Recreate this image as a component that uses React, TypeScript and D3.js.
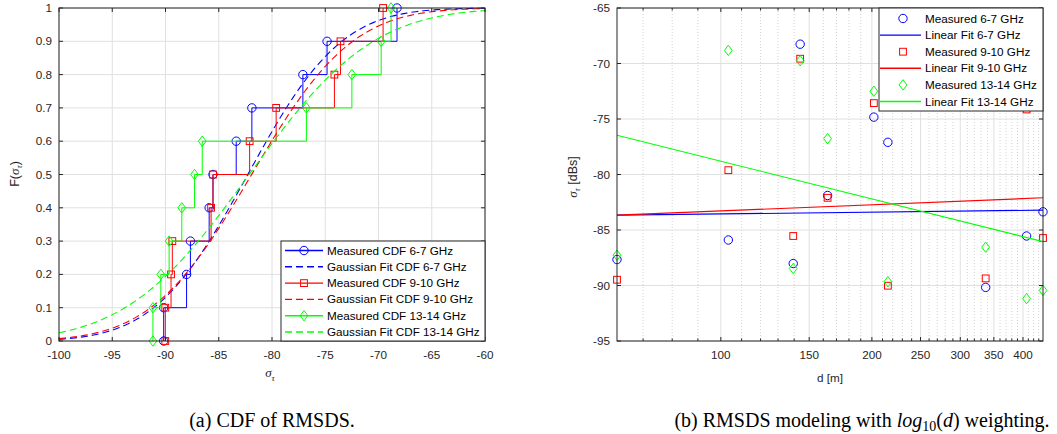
import React from 'react';
import * as d3 from 'd3';

// ---------- data ----------
const distances = [62.1, 103.5, 139.4, 143.9, 163.2, 201.8, 215.2, 337.1, 406.7, 438.5];
const measured67 = [-87.66, -85.9, -88.02, -68.26, -81.89, -74.83, -77.1, -90.17, -85.54, -83.36];
const measured910 = [-89.48, -79.61, -85.54, -69.57, -82.1, -73.57, -90.02, -89.36, -74.14, -85.72];
const measured1314 = [-87.27, -68.82, -88.47, -69.75, -76.77, -72.5, -89.66, -86.55, -91.18, -90.44];
// linear fit values at the two ends of the distance axis
const fit67 = [-83.66, -83.21];
const fit910 = [-83.66, -82.1];
const fit1314 = [-76.47, -86.05];

const bandNames = ['6-7 GHz', '9-10 GHz', '13-14 GHz'];
const cdfXTicks = [-100, -95, -90, -85, -80, -75, -70, -65, -60];
const cdfYTicks = [0, 0.1, 0.2, 0.3, 0.4, 0.5, 0.6, 0.7, 0.8, 0.9, 1];
const distTicks = [100, 150, 200, 250, 300, 350, 400];
const distMinorTicks = [70, 80, 90, 110, 120, 130, 140, 160, 170, 180, 190, 210, 220, 230, 240, 260, 270, 280, 290, 310, 320, 330, 340, 360, 370, 380, 390, 410, 420, 430];
const rmsTicks = [-65, -70, -75, -80, -85, -90, -95];

const COLORS = ['#0000ff', '#ff0000', '#00ff00'];
const MARKERS = ['circle', 'square', 'diamond'];
const AXIS = '#262626';
const GRID = '#e0e0e0';
const FONT = '"Liberation Sans", Arial, Helvetica, sans-serif';
const SERIF = '"Liberation Serif", "Times New Roman", serif';
const FS = 11.7;

function erf(x: number) {
  const s = x < 0 ? -1 : 1;
  const a = Math.abs(x);
  const t = 1 / (1 + 0.3275911 * a);
  const y = 1 - (((((1.061405429 * t - 1.453152027) * t) + 1.421413741) * t - 0.284496736) * t + 0.254829592) * t * Math.exp(-a * a);
  return s * y;
}
const normCdf = (x: number, mu: number, sd: number) => 0.5 * (1 + erf((x - mu) / (sd * Math.SQRT2)));

function Marker({ type, x, y, color }: { type: string; x: number; y: number; color: string }) {
  if (type === 'circle') return <circle cx={x} cy={y} r={4.2} fill="none" stroke={color} strokeWidth={1} />;
  if (type === 'square') return <rect x={x - 3.4} y={y - 3.4} width={6.8} height={6.8} fill="none" stroke={color} strokeWidth={1} />;
  return <path d={`M${x},${y - 5.2}L${x + 3.9},${y}L${x},${y + 5.2}L${x - 3.9},${y}Z`} fill="none" stroke={color} strokeWidth={1} />;
}

// ---------- left panel: CDF ----------
function CdfPanel() {
  const L = 59, R = 485, T = 8, B = 341;
  const x = d3.scaleLinear().domain([-100, -60]).range([L, R]);
  const y = d3.scaleLinear().domain([0, 1]).range([B, T]);
  const bands = [measured67, measured910, measured1314];
  const line = d3.line<[number, number]>().x(d => x(d[0])).y(d => y(d[1]));
  const stair = d3.line<[number, number]>().x(d => x(d[0])).y(d => y(d[1])).curve(d3.curveStepAfter);
  const xs = d3.range(-100, -59.99, 0.25);

  const series = bands.map(vals => {
    const s = [...vals].sort((a, b) => a - b);
    const n = s.length;
    const pts: [number, number][] = [[s[0], 0], ...s.map((v, i) => [v, (i + 1) / n] as [number, number])];
    const mu = d3.mean(vals) as number;
    const sd = d3.deviation(vals) as number;
    const fit: [number, number][] = xs.map(v => [v, normCdf(v, mu, sd)]);
    return { pts, fit };
  });

  const legendItems = [0, 1, 2].flatMap(i => [
    { label: `Measured CDF ${bandNames[i]}`, color: COLORS[i], marker: MARKERS[i], dash: 'none' },
    { label: `Gaussian Fit CDF ${bandNames[i]}`, color: COLORS[i], marker: '', dash: '7,4' },
  ]);

  return (
    <g>
      {cdfXTicks.map(t => <line key={'gx' + t} x1={x(t)} x2={x(t)} y1={T} y2={B} stroke={GRID} strokeWidth={1} />)}
      {cdfYTicks.map(t => <line key={'gy' + t} x1={L} x2={R} y1={y(t)} y2={y(t)} stroke={GRID} strokeWidth={1} />)}
      {series.map((s, i) => (
        <g key={'s' + i}>
          <path d={stair(s.pts) || ''} fill="none" stroke={COLORS[i]} strokeWidth={1} />
          {s.pts.map((p, j) => <Marker key={j} type={MARKERS[i]} x={x(p[0])} y={y(p[1])} color={COLORS[i]} />)}
          <path d={line(s.fit) || ''} fill="none" stroke={COLORS[i]} strokeWidth={1.1} strokeDasharray="7,4" />
        </g>
      ))}
      <rect x={L} y={T} width={R - L} height={B - T} fill="none" stroke={AXIS} strokeWidth={1} />
      {cdfXTicks.map(t => (
        <g key={'tx' + t}>
          <line x1={x(t)} x2={x(t)} y1={B} y2={B - 4} stroke={AXIS} />
          <line x1={x(t)} x2={x(t)} y1={T} y2={T + 4} stroke={AXIS} />
          <text x={x(t)} y={359} textAnchor="middle" fontFamily={FONT} fontSize={FS} fill={AXIS}>{t}</text>
        </g>
      ))}
      {cdfYTicks.map(t => (
        <g key={'ty' + t}>
          <line x1={L} x2={L + 4} y1={y(t)} y2={y(t)} stroke={AXIS} />
          <line x1={R} x2={R - 4} y1={y(t)} y2={y(t)} stroke={AXIS} />
          <text x={52} y={y(t) + 4} textAnchor="end" fontFamily={FONT} fontSize={FS} fill={AXIS}>{d3.format('~g')(t)}</text>
        </g>
      ))}
      <text x={270} y={377} textAnchor="middle" fontFamily={SERIF} fontSize={13} fill={AXIS}>
        <tspan fontStyle="italic">σ</tspan><tspan fontSize={9} dy={4} fontStyle="italic">τ</tspan>
      </text>
      <text transform="translate(19,174) rotate(-90)" textAnchor="middle" fontFamily={FONT} fontSize={12.5} fill={AXIS}>
        F(<tspan fontStyle="italic" fontFamily={SERIF} fontSize={13}>σ</tspan><tspan fontSize={9} dy={3} fontStyle="italic" fontFamily={SERIF}>τ</tspan><tspan dy={-3}>)</tspan>
      </text>
      <rect x={281} y={241} width={R - 281} height={B - 241} fill="#fff" stroke={AXIS} strokeWidth={1} />
      {legendItems.map((it, i) => {
        const cy = 250.5 + i * 16.3;
        return (
          <g key={'lg' + i}>
            <line x1={285} x2={323} y1={cy} y2={cy} stroke={it.color} strokeWidth={1.4} strokeDasharray={it.dash} />
            {it.marker && <Marker type={it.marker} x={304} y={cy} color={it.color} />}
            <text x={327} y={cy + 4} fontFamily={FONT} fontSize={FS} fill="#000">{it.label}</text>
          </g>
        );
      })}
    </g>
  );
}

// ---------- right panel: RMSDS vs distance ----------
function DistPanel() {
  const L = 617, R = 1043, T = 8, B = 341;
  const dom = d3.extent(distances) as [number, number];
  const x = d3.scaleLog().domain(dom).range([L, R]);
  const y = d3.scaleLinear().domain([-95, -65]).range([B, T]);
  const bands = [measured67, measured910, measured1314];
  const fits = [fit67, fit910, fit1314];
  const minor = distMinorTicks.filter(t => t >= dom[0] && t <= dom[1]);

  const legendItems = [0, 1, 2].flatMap(i => [
    { label: `Measured ${bandNames[i]}`, color: COLORS[i], marker: MARKERS[i], line: false },
    { label: `Linear Fit ${bandNames[i]}`, color: COLORS[i], marker: '', line: true },
  ]);

  return (
    <g>
      {minor.map(t => <line key={'mg' + t} x1={x(t)} x2={x(t)} y1={T} y2={B} stroke="#c8c8c8" strokeWidth={0.8} strokeDasharray="1,2" />)}
      {distTicks.map(t => <line key={'gx' + t} x1={x(t)} x2={x(t)} y1={T} y2={B} stroke={GRID} strokeWidth={1} />)}
      {rmsTicks.map(t => <line key={'gy' + t} x1={L} x2={R} y1={y(t)} y2={y(t)} stroke={GRID} strokeWidth={1} />)}
      {bands.map((vals, i) => (
        <g key={'b' + i}>
          {vals.map((v, j) => <Marker key={j} type={MARKERS[i]} x={x(distances[j])} y={y(v)} color={COLORS[i]} />)}
          <line x1={x(dom[0])} x2={x(dom[1])} y1={y(fits[i][0])} y2={y(fits[i][1])} stroke={COLORS[i]} strokeWidth={1.1} />
        </g>
      ))}
      <rect x={L} y={T} width={R - L} height={B - T} fill="none" stroke={AXIS} strokeWidth={1} />
      {minor.map(t => (
        <g key={'mt' + t}>
          <line x1={x(t)} x2={x(t)} y1={B} y2={B - 2.5} stroke={AXIS} />
          <line x1={x(t)} x2={x(t)} y1={T} y2={T + 2.5} stroke={AXIS} />
        </g>
      ))}
      {distTicks.map(t => (
        <g key={'tx' + t}>
          <line x1={x(t)} x2={x(t)} y1={B} y2={B - 4} stroke={AXIS} />
          <line x1={x(t)} x2={x(t)} y1={T} y2={T + 4} stroke={AXIS} />
          <text x={x(t)} y={359} textAnchor="middle" fontFamily={FONT} fontSize={FS} fill={AXIS}>{t}</text>
        </g>
      ))}
      {rmsTicks.map(t => (
        <g key={'ty' + t}>
          <line x1={L} x2={L + 4} y1={y(t)} y2={y(t)} stroke={AXIS} />
          <line x1={R} x2={R - 4} y1={y(t)} y2={y(t)} stroke={AXIS} />
          <text x={610} y={y(t) + 4} textAnchor="end" fontFamily={FONT} fontSize={FS} fill={AXIS}>{t}</text>
        </g>
      ))}
      <text x={830} y={382} textAnchor="middle" fontFamily={FONT} fontSize={FS} fill={AXIS}>d [m]</text>
      <text transform="translate(577,177) rotate(-90)" textAnchor="middle" fontFamily={FONT} fontSize={12.5} fill={AXIS}>
        <tspan fontStyle="italic" fontFamily={SERIF} fontSize={13}>σ</tspan><tspan fontSize={9} dy={3} fontStyle="italic" fontFamily={SERIF}>τ</tspan><tspan dy={-3}> [dBs]</tspan>
      </text>
      <rect x={879} y={T} width={R - 879} height={111 - T} fill="#fff" stroke={AXIS} strokeWidth={1} />
      {legendItems.map((it, i) => {
        const cy = 18.5 + i * 16.6;
        return (
          <g key={'lg' + i}>
            {it.line && <line x1={880} x2={921} y1={cy} y2={cy} stroke={it.color} strokeWidth={1.4} />}
            {it.marker && <Marker type={it.marker} x={903} y={cy} color={it.color} />}
            <text x={925} y={cy + 4} fontFamily={FONT} fontSize={FS} fill="#000">{it.label}</text>
          </g>
        );
      })}
    </g>
  );
}

export default function App() {
  return (
    <svg width={1057} height={434} viewBox="0 0 1057 434" style={{ position: 'absolute', left: 0, top: 0, background: '#fff' }}>
      <rect x={0} y={0} width={1057} height={434} fill="#fff" />
      <CdfPanel />
      <DistPanel />
      <text x={272} y={427} textAnchor="middle" fontFamily={SERIF} fontSize={20} fill="#000">(a) CDF of RMSDS.</text>
      <text x={862} y={427} textAnchor="middle" fontFamily={SERIF} fontSize={20} fill="#000">
        (b) RMSDS modeling with <tspan fontStyle="italic">log</tspan><tspan fontSize={14} dy={4}>10</tspan><tspan dy={-4}>(</tspan><tspan fontStyle="italic">d</tspan>) weighting.
      </text>
    </svg>
  );
}
